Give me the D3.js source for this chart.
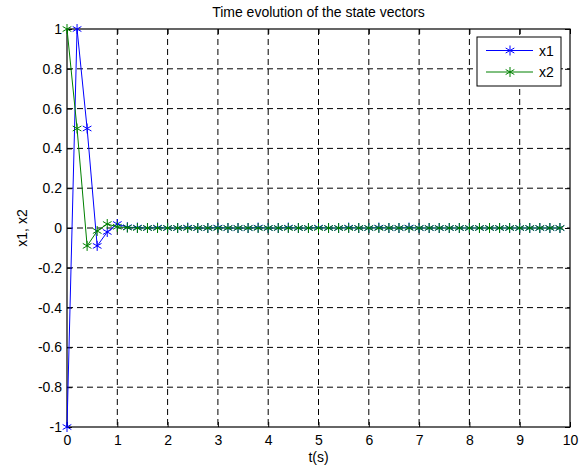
<!DOCTYPE html>
<html>
<head>
<meta charset="utf-8">
<script src="https://cdn.jsdelivr.net/npm/d3@7"></script>
<style>
  body { margin: 0; background: #fff; }
  text { font-family: "Liberation Sans", Arial, sans-serif; }
</style>
</head>
<body>
<div id="chart"></div>
<script>
var widthsvg = 587;
var heightsvg = 467;

var margin = {top: 29, right: 17, bottom: 40, left: 67};

var width = widthsvg - margin.left - margin.right;
var height = heightsvg - margin.top - margin.bottom;

// data, time step 0.2 s
var timeStep = 0.2;
var x1 = [-1, 1, 0.5, -0.09, -0.02, 0.02, 0.004, 0.002, 0, 0.002,
          0, 0, 0.002, 0, 0, 0.002, 0, 0, 0, 0.002,
          0, 0, 0.002, 0, 0, 0.002, 0, 0, 0.002, 0,
          0, 0.002, 0, 0, 0.002, 0, 0, 0, 0, 0,
          0, 0, 0, 0, 0, 0, 0, 0, 0, 0];
var x2 = [1, 0.5, -0.09, -0.015, 0.02, 0.006, 0.002, 0, 0, 0,
          0, 0, 0, 0, 0, 0, 0, 0, 0, 0,
          0, 0, 0, 0, 0, 0, 0, 0, 0, 0,
          0, 0, 0, 0, 0, 0, 0, 0, 0, 0,
          0, 0, 0, 0, 0, 0, 0, 0, 0, 0];
var seriesNames = ["x1", "x2"];
var seriesColors = ["#0000ff", "#008000"];
var xTicks = [0, 1, 2, 3, 4, 5, 6, 7, 8, 9, 10];
var yTicks = [-1, -0.8, -0.6, -0.4, -0.2, 0, 0.2, 0.4, 0.6, 0.8, 1];
var yTickLabels = ["-1", "-0.8", "-0.6", "-0.4", "-0.2", "0", "0.2", "0.4", "0.6", "0.8", "1"];

var svg = d3.select("#chart")
    .append("svg")
    .attr("width", widthsvg)
    .attr("height", heightsvg);

var chartGroup = svg.append("g")
    .attr("transform", `translate(${margin.left}, ${margin.top})`);

var scalex = d3.scaleLinear().domain([0, 10]).range([0, width]);
var scaley = d3.scaleLinear().domain([-1, 1]).range([height, 0]);

// grid
chartGroup.append("g")
    .selectAll("line")
    .data(xTicks.slice(1, -1))
    .enter()
    .append("line")
    .attr("x1", d => scalex(d)).attr("x2", d => scalex(d))
    .attr("y1", 0).attr("y2", height)
    .attr("stroke", "#000").attr("stroke-width", 1)
    .attr("stroke-dasharray", "6,4");

chartGroup.append("g")
    .selectAll("line")
    .data(yTicks.slice(1, -1))
    .enter()
    .append("line")
    .attr("y1", d => scaley(d)).attr("y2", d => scaley(d))
    .attr("x1", 0).attr("x2", width)
    .attr("stroke", "#000").attr("stroke-width", 1)
    .attr("stroke-dasharray", "6,4");

// axes with inner ticks on all sides
function styleAxis(g) {
    g.select(".domain").remove();
    g.selectAll("text").attr("font-size", 14).attr("fill", "#000")
        .attr("font-family", "Liberation Sans, Arial, sans-serif");
    g.selectAll("line").attr("stroke", "#000");
}

chartGroup.append("g")
    .attr("transform", `translate(0, ${height})`)
    .call(d3.axisBottom(scalex).tickValues(xTicks).tickFormat(d3.format("d"))
        .tickSizeInner(-5).tickPadding(8))
    .call(styleAxis);

chartGroup.append("g")
    .call(d3.axisTop(scalex).tickValues(xTicks).tickFormat("").tickSizeInner(-5))
    .call(styleAxis);

chartGroup.append("g")
    .call(d3.axisLeft(scaley).tickValues(yTicks).tickFormat((d, i) => yTickLabels[i])
        .tickSizeInner(-5).tickPadding(5))
    .call(styleAxis);

chartGroup.append("g")
    .attr("transform", `translate(${width}, 0)`)
    .call(d3.axisRight(scaley).tickValues(yTicks).tickFormat("").tickSizeInner(-5))
    .call(styleAxis);

chartGroup.append("rect")
    .attr("width", width).attr("height", height)
    .attr("fill", "none").attr("stroke", "#000").attr("stroke-width", 1.2);

// lines and markers
var allSeries = [x1, x2];
var line = d3.line()
    .x((d, i) => scalex(i * timeStep))
    .y(d => scaley(d));

var star = d3.symbol().type(d3.symbolAsterisk).size(70);

allSeries.forEach(function(values, k) {
    chartGroup.append("path")
        .datum(values)
        .attr("d", line)
        .attr("fill", "none")
        .attr("stroke", seriesColors[k])
        .attr("stroke-width", 1);

    chartGroup.append("g")
        .selectAll("path")
        .data(values)
        .enter()
        .append("path")
        .attr("transform", (d, i) => `translate(${scalex(i * timeStep)}, ${scaley(d)})`)
        .attr("d", star)
        .attr("fill", "none")
        .attr("stroke", seriesColors[k])
        .attr("stroke-width", 1);
});

// legend
var legend = chartGroup.append("g")
    .attr("transform", `translate(${477 - margin.left}, ${37 - margin.top})`);

legend.append("rect")
    .attr("width", 84).attr("height", 49)
    .attr("fill", "#fff").attr("stroke", "#000").attr("stroke-width", 1);

seriesNames.forEach(function(name, k) {
    var ly = 13.5 + k * 21.5;
    legend.append("line")
        .attr("x1", 9).attr("x2", 56)
        .attr("y1", ly).attr("y2", ly)
        .attr("stroke", seriesColors[k]).attr("stroke-width", 1);
    legend.append("path")
        .attr("transform", `translate(33, ${ly})`)
        .attr("d", star)
        .attr("fill", "none")
        .attr("stroke", seriesColors[k]);
    legend.append("text")
        .attr("x", 62).attr("y", ly + 5)
        .attr("font-size", 14)
        .text(name);
});

// titles
svg.append("text")
    .attr("x", margin.left + width / 2).attr("y", 17)
    .attr("text-anchor", "middle")
    .attr("font-size", 14)
    .text("Time evolution of the state vectors");

svg.append("text")
    .attr("x", margin.left + width / 2).attr("y", 462)
    .attr("text-anchor", "middle")
    .attr("font-size", 14)
    .text("t(s)");

svg.append("text")
    .attr("transform", `translate(27, ${margin.top + height / 2}) rotate(-90)`)
    .attr("text-anchor", "middle")
    .attr("font-size", 14)
    .text("x1, x2");
</script>
</body>
</html>
